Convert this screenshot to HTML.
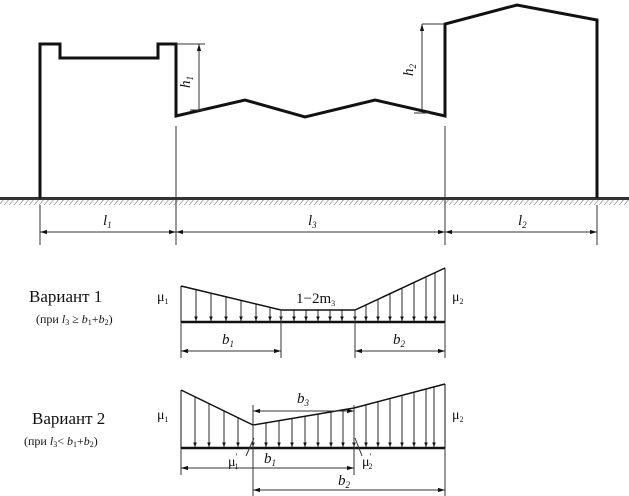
<!DOCTYPE html>
<html><head><meta charset="utf-8"><style>body{margin:0;background:#fff}svg{display:block}text{font-family:"Liberation Serif",serif;fill:#111}</style></head><body>
<svg width="629" height="496" viewBox="0 0 629 496" xmlns="http://www.w3.org/2000/svg">
<defs>
<marker id="a" viewBox="0 0 10 10" refX="10" refY="5" markerWidth="7" markerHeight="7" orient="auto-start-reverse"><path d="M0,2 L10,5 L0,8z" fill="#111"/></marker>
<marker id="d" viewBox="0 0 10 10" refX="10" refY="5" markerWidth="5" markerHeight="5" orient="auto"><path d="M0,1 L10,5 L0,9z" fill="#111"/></marker>
<pattern id="h" width="5" height="6" patternUnits="userSpaceOnUse"><path d="M0,6 L5,0" stroke="#999" stroke-width="0.8"/></pattern>
</defs>
<rect x="0" y="199" width="629" height="6" fill="url(#h)"/>
<line x1="0" y1="198.5" x2="629" y2="198.5" stroke="#333" stroke-width="3"/>
<g fill="none" stroke="#111" stroke-width="3" stroke-linejoin="miter">
<path d="M40,198 V44 H60 V58 H158 V44 H176 V116 L245,100 L305,117 L375,100 L445,116 V24 L517,5 L597,20 V198"/>
</g>
<g stroke="#333" stroke-width="1" fill="none">
<line x1="176" y1="44" x2="205" y2="44"/><line x1="190" y1="110" x2="205" y2="110"/>
<line x1="199" y1="110" x2="199" y2="44" marker-end="url(#a)"/>
<line x1="422" y1="24" x2="445" y2="24"/><line x1="414" y1="113" x2="430" y2="113"/>
<line x1="422" y1="110" x2="422" y2="24" marker-end="url(#a)"/>
<line x1="40" y1="205" x2="40" y2="245"/><line x1="176" y1="126" x2="176" y2="245"/>
<line x1="445" y1="126" x2="445" y2="245"/><line x1="597" y1="205" x2="597" y2="245"/>
<line x1="40" y1="232" x2="176" y2="232" marker-start="url(#a)" marker-end="url(#a)"/>
<line x1="176" y1="232" x2="445" y2="232" marker-start="url(#a)" marker-end="url(#a)"/>
<line x1="445" y1="232" x2="597" y2="232" marker-start="url(#a)" marker-end="url(#a)"/>
</g>
<text x="190" y="82" font-size="15" font-style="italic" transform="rotate(-90 190 82)" text-anchor="middle">h<tspan font-size="9" dy="3">1</tspan></text>
<text x="413" y="70" font-size="15" font-style="italic" transform="rotate(-90 413 70)" text-anchor="middle">h<tspan font-size="9" dy="3">2</tspan></text>
<text x="103" y="225" font-size="15" font-style="italic">l<tspan font-size="9" dy="3">1</tspan></text>
<text x="308" y="225" font-size="15" font-style="italic">l<tspan font-size="9" dy="3">3</tspan></text>
<text x="518" y="225" font-size="15" font-style="italic">l<tspan font-size="9" dy="3">2</tspan></text>

<text x="29" y="302" font-size="17">Вариант 1</text>
<text x="36" y="323" font-size="12">(при <tspan font-style="italic">l</tspan><tspan font-size="8" dy="2">3</tspan><tspan dy="-2"> ≥ </tspan><tspan font-style="italic">b</tspan><tspan font-size="8" dy="2">1</tspan><tspan dy="-2">+</tspan><tspan font-style="italic">b</tspan><tspan font-size="8" dy="2">2</tspan><tspan dy="-2">)</tspan></text>
<g stroke="#111" fill="none">
<path d="M181,286 L281,310 H355 L445,268" stroke-width="1.5"/>
<line x1="181" y1="322" x2="445" y2="322" stroke-width="2.5"/>
<line x1="181" y1="286" x2="181" y2="322"/><line x1="445" y1="268" x2="445" y2="322"/>
</g>
<g stroke="#111" stroke-width="0.9">
<line x1="196" y1="290" x2="196" y2="321" marker-end="url(#d)"/>
<line x1="211" y1="293" x2="211" y2="321" marker-end="url(#d)"/>
<line x1="226" y1="297" x2="226" y2="321" marker-end="url(#d)"/>
<line x1="241" y1="300" x2="241" y2="321" marker-end="url(#d)"/>
<line x1="256" y1="304" x2="256" y2="321" marker-end="url(#d)"/>
<line x1="270" y1="307" x2="270" y2="321" marker-end="url(#d)"/>
<line x1="281" y1="310" x2="281" y2="321" marker-end="url(#d)"/>
<line x1="294" y1="310" x2="294" y2="321" marker-end="url(#d)"/>
<line x1="306" y1="310" x2="306" y2="321" marker-end="url(#d)"/>
<line x1="318" y1="310" x2="318" y2="321" marker-end="url(#d)"/>
<line x1="330" y1="310" x2="330" y2="321" marker-end="url(#d)"/>
<line x1="342" y1="310" x2="342" y2="321" marker-end="url(#d)"/>
<line x1="355" y1="310" x2="355" y2="321" marker-end="url(#d)"/>
<line x1="366" y1="305" x2="366" y2="321" marker-end="url(#d)"/>
<line x1="378" y1="299" x2="378" y2="321" marker-end="url(#d)"/>
<line x1="390" y1="294" x2="390" y2="321" marker-end="url(#d)"/>
<line x1="402" y1="288" x2="402" y2="321" marker-end="url(#d)"/>
<line x1="414" y1="282" x2="414" y2="321" marker-end="url(#d)"/>
<line x1="426" y1="277" x2="426" y2="321" marker-end="url(#d)"/>
<line x1="435" y1="273" x2="435" y2="321" marker-end="url(#d)"/>
</g>
<g stroke="#333" stroke-width="1">
<line x1="181" y1="322" x2="181" y2="358"/><line x1="281" y1="310" x2="281" y2="358"/>
<line x1="355" y1="310" x2="355" y2="358"/><line x1="445" y1="322" x2="445" y2="358"/>
<line x1="181" y1="351" x2="281" y2="351" marker-start="url(#a)" marker-end="url(#a)"/>
<line x1="355" y1="351" x2="445" y2="351" marker-start="url(#a)" marker-end="url(#a)"/>
</g>
<text x="157" y="301" font-size="14">μ<tspan font-size="8" dy="3">1</tspan></text>
<text x="452" y="301" font-size="14">μ<tspan font-size="8" dy="3">2</tspan></text>
<text x="296" y="303" font-size="15">1−2m<tspan font-size="8" dy="3">3</tspan></text>
<text x="222" y="344" font-size="15" font-style="italic">b<tspan font-size="9" dy="3">1</tspan></text>
<text x="393" y="344" font-size="15" font-style="italic">b<tspan font-size="9" dy="3">2</tspan></text>

<text x="32" y="424" font-size="17">Вариант 2</text>
<text x="24" y="445" font-size="12">(при <tspan font-style="italic">l</tspan><tspan font-size="8" dy="2">3</tspan><tspan dy="-2">&lt;  </tspan><tspan font-style="italic">b</tspan><tspan font-size="8" dy="2">1</tspan><tspan dy="-2">+</tspan><tspan font-style="italic">b</tspan><tspan font-size="8" dy="2">2</tspan><tspan dy="-2">)</tspan></text>
<g stroke="#111" fill="none">
<path d="M181,390 L253,425 L354,408 L445,384" stroke-width="1.5"/>
<line x1="181" y1="448" x2="445" y2="448" stroke-width="2.5"/>
<line x1="181" y1="390" x2="181" y2="448"/><line x1="445" y1="384" x2="445" y2="448"/>
</g>
<g stroke="#111" stroke-width="0.9">
<line x1="195" y1="397" x2="195" y2="447" marker-end="url(#d)"/>
<line x1="209" y1="404" x2="209" y2="447" marker-end="url(#d)"/>
<line x1="224" y1="411" x2="224" y2="447" marker-end="url(#d)"/>
<line x1="238" y1="418" x2="238" y2="447" marker-end="url(#d)"/>
<line x1="253" y1="425" x2="253" y2="447" marker-end="url(#d)"/>
<line x1="266" y1="423" x2="266" y2="447" marker-end="url(#d)"/>
<line x1="279" y1="421" x2="279" y2="447" marker-end="url(#d)"/>
<line x1="292" y1="418" x2="292" y2="447" marker-end="url(#d)"/>
<line x1="305" y1="416" x2="305" y2="447" marker-end="url(#d)"/>
<line x1="318" y1="414" x2="318" y2="447" marker-end="url(#d)"/>
<line x1="331" y1="412" x2="331" y2="447" marker-end="url(#d)"/>
<line x1="343" y1="410" x2="343" y2="447" marker-end="url(#d)"/>
<line x1="354" y1="408" x2="354" y2="447" marker-end="url(#d)"/>
<line x1="366" y1="405" x2="366" y2="447" marker-end="url(#d)"/>
<line x1="378" y1="402" x2="378" y2="447" marker-end="url(#d)"/>
<line x1="390" y1="398" x2="390" y2="447" marker-end="url(#d)"/>
<line x1="402" y1="395" x2="402" y2="447" marker-end="url(#d)"/>
<line x1="414" y1="392" x2="414" y2="447" marker-end="url(#d)"/>
<line x1="426" y1="389" x2="426" y2="447" marker-end="url(#d)"/>
<line x1="434" y1="387" x2="434" y2="447" marker-end="url(#d)"/>
</g>
<g stroke="#333" stroke-width="1">
<line x1="253" y1="405" x2="253" y2="496"/><line x1="354" y1="405" x2="354" y2="475"/>
<line x1="181" y1="448" x2="181" y2="475"/><line x1="445" y1="448" x2="445" y2="496"/>
<line x1="253" y1="411" x2="354" y2="411" marker-start="url(#a)" marker-end="url(#a)"/>
<line x1="181" y1="468" x2="354" y2="468" marker-start="url(#a)" marker-end="url(#a)"/>
<line x1="253" y1="490" x2="445" y2="490" marker-start="url(#a)" marker-end="url(#a)"/>
<line x1="246" y1="456" x2="254" y2="438"/><line x1="362" y1="456" x2="355" y2="438"/>
</g>
<text x="157" y="419" font-size="14">μ<tspan font-size="8" dy="3">1</tspan></text>
<text x="452" y="419" font-size="14">μ<tspan font-size="8" dy="3">2</tspan></text>
<text x="228" y="466" font-size="14">μ<tspan font-size="9" dy="-6">′</tspan><tspan font-size="8" dx="-3" dy="9">1</tspan></text>
<text x="362" y="466" font-size="14">μ<tspan font-size="9" dy="-6">′</tspan><tspan font-size="8" dx="-3" dy="9">2</tspan></text>
<text x="297" y="403" font-size="15" font-style="italic">b<tspan font-size="9" dy="3">3</tspan></text>
<text x="264" y="463" font-size="15" font-style="italic">b<tspan font-size="9" dy="3">1</tspan></text>
<text x="338" y="485" font-size="15" font-style="italic">b<tspan font-size="9" dy="3">2</tspan></text>
</svg>
</body></html>
